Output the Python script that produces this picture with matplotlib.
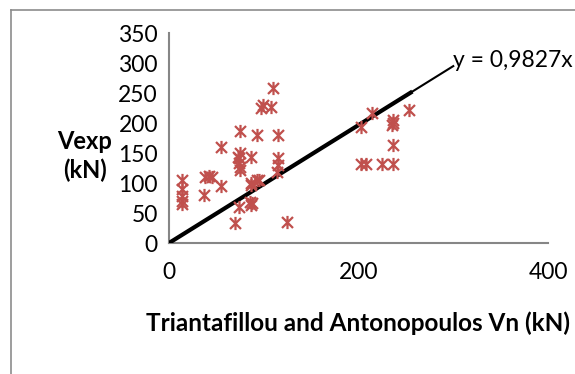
import matplotlib.pyplot as plt
from matplotlib.lines import Line2D
from matplotlib.path import Path

# predicted shear (Triantafillou & Antonopoulos) vs experimental shear, kN
vn = [14, 14, 14, 14, 14, 38, 42, 45, 37, 55, 74, 70, 86, 87, 88, 87, 95,
      110, 99, 97, 108, 75, 93, 115, 55, 75, 74, 74, 75, 87, 115, 115,
      93, 87, 125, 114, 73, 75,
      214, 203, 236, 236, 235, 253, 236, 203, 208, 225, 236]
vexp = [105, 90, 78, 70, 65, 110, 112, 110, 80, 95, 60, 33, 68, 63, 66, 97, 105,
        258, 230, 225, 227, 187, 180, 180, 160, 150, 142, 133, 122, 143, 142, 130,
        105, 100, 35, 118, 143, 127,
        217, 193, 205, 200, 197, 222, 163, 132, 132, 132, 132]

slope = 0.9827
fit_x = [0, 300]
bold_x = [0, 255]

plt.rcParams['font.family'] = ['Lato', 'DejaVu Sans']

# excel-style star marker: an x crossed by a vertical bar
star = Path([(-1, -1), (1, 1), (-1, 1), (1, -1), (0, -1.2), (0, 1.2)],
            [Path.MOVETO, Path.LINETO] * 3)

fig = plt.figure(figsize=(5.75, 3.74), dpi=100)
ax = fig.add_axes([169 / 575, 1 - 243 / 374, (548 - 169) / 575, (243 - 33) / 374])

ax.plot(bold_x, [slope * v for v in bold_x], color='black', lw=3, zorder=3)
ax.plot(fit_x, [slope * v for v in fit_x], color='black', lw=1.5, zorder=3)
ax.plot(vn, vexp, linestyle='none', marker=star, markersize=9.5,
        markeredgewidth=1.6, color='#C0504D', zorder=4)

ax.text(fit_x[1], slope * fit_x[1] - 8, 'y = 0,9827x', fontsize=16.5,
        ha='left', va='bottom', clip_on=False)

ax.set_xlim(0, 400)
ax.set_ylim(0, 350)
ax.set_xticks([0, 200, 400])
ax.set_yticks(range(0, 351, 50))
ax.tick_params(length=0, labelsize=16.5, pad=8)
ax.tick_params(axis='x', pad=14)
for s in ['top', 'right']:
    ax.spines[s].set_visible(False)
for s in ['left', 'bottom']:
    ax.spines[s].set_color('#868686')
    ax.spines[s].set_linewidth(1.5)

ax.set_xlabel('Triantafillou and Antonopoulos Vn (kN)', fontsize=17.5,
              fontweight='bold', labelpad=20)
fig.text(85 / 575, 1 - 156 / 374, 'Vexp\n(kN)', fontsize=17,
         fontweight='bold', ha='center', va='center', linespacing=1.25)

# chart frame (left and top edges visible)
fig.add_artist(Line2D([11 / 575, 11 / 575], [0, 1 - 10 / 374],
                      transform=fig.transFigure, color='#8c8c8c', lw=1.2))
fig.add_artist(Line2D([11 / 575, 1], [1 - 10 / 374, 1 - 10 / 374],
                      transform=fig.transFigure, color='#8c8c8c', lw=1.2))

fig.savefig('out.png', dpi=100)
